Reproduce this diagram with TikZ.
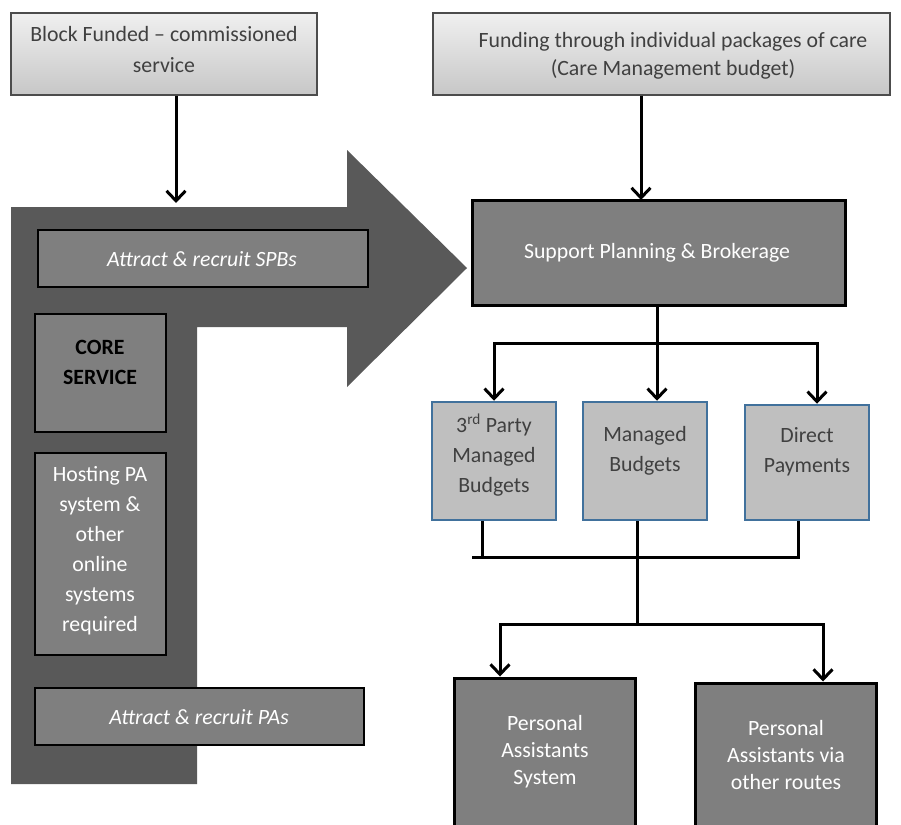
\documentclass[tikz,border=0pt]{standalone}
\usepackage{fontspec}
\setmainfont{Carlito}
\usetikzlibrary{arrows.meta}
\definecolor{bigarrow}{HTML}{595959}
\definecolor{darkfill}{HTML}{7F7F7F}
\definecolor{midfill}{HTML}{BFBFBF}
\definecolor{midborder}{HTML}{41719C}
\definecolor{txtgray}{HTML}{404040}
\begin{document}
\begin{tikzpicture}[x=1pt,y=-1pt,
  font=\fontsize{21.8}{30}\selectfont,
  topbox/.style={draw=black!70, line width=1.2pt, top color=black!6, bottom color=black!22, inner sep=0pt},
  darkbox/.style={fill=darkfill, draw=black, line width=3pt, inner sep=0pt},
  thinbox/.style={fill=darkfill, draw=black, line width=1.5pt, inner sep=0pt},
  midbox/.style={fill=midfill, draw=midborder, line width=2.5pt, inner sep=0pt},
  txt/.style={align=center, inner sep=0pt},
  conn/.style={line width=3pt, black},
  arr/.style={conn, -{Straight Barb[length=10pt,width=19pt]}}]
\clip (0,0) rectangle (901,824);
\fill[white] (0,0) rectangle (901,824);
% big L-shaped arrow
\fill[bigarrow] (11,207) -- (347,207) -- (347,150) -- (467,268) -- (347,387)
  -- (347,327) -- (197,327) -- (197,784) -- (11,784) -- cycle;
% top boxes
\node[topbox, minimum width=306pt, minimum height=82pt] (bf) at (164,54) {};
\node[txt, text=txtgray, font=\fontsize{21.8}{31}\selectfont] (bft) at (164,50) {Block Funded – commissioned\\service};
\node[topbox, minimum width=457pt, minimum height=82pt] (fund) at (661.5,54) {};
\node[txt, text=txtgray, font=\fontsize{21.8}{28}\selectfont] (fundt) at (673,56) {Funding through individual packages of care\\(Care Management budget)};
% support planning
\node[darkbox, minimum width=373pt, minimum height=105pt] (spb) at (658.5,252.5) {};
\node[txt, text=white] (spbt) at (657,253) {Support Planning \& Brokerage};
% left column boxes
\node[thinbox, minimum width=330pt, minimum height=57pt] (sp1) at (203,258.5) {};
\node[txt, text=white, font=\fontsize{21.8}{30}\selectfont\itshape] (sp1t) at (202,259) {Attract \& recruit SPBs};
\node[thinbox, minimum width=131pt, minimum height=118pt] (core) at (100.5,373) {};
\node[txt, text=black, font=\fontsize{21.8}{30}\selectfont\bfseries] (coret) at (100,362) {CORE\\SERVICE};
\node[thinbox, minimum width=131pt, minimum height=202pt] (host) at (100.5,554) {};
\node[txt, text=white] (hostt) at (100,550.5) {Hosting PA\\system \&\\other\\online\\systems\\required};
\node[thinbox, minimum width=329pt, minimum height=57pt] (pa1) at (199.5,716.5) {};
\node[txt, text=white, font=\fontsize{21.8}{30}\selectfont\itshape] (pa1t) at (199,717) {Attract \& recruit PAs};
% middle boxes
\node[midbox, minimum width=124pt, minimum height=118pt] (tp) at (494,461) {};
\node[txt, text=txtgray] (tpt) at (494,455) {3\textsuperscript{rd} Party\\Managed\\Budgets};
\node[midbox, minimum width=124pt, minimum height=118pt] (mb) at (645,461) {};
\node[txt, text=txtgray] (mbt) at (645,450.5) {Managed\\Budgets};
\node[midbox, minimum width=124pt, minimum height=115pt] (dp) at (807,462.5) {};
\node[txt, text=txtgray] (dpt) at (807,452) {Direct\\Payments};
% bottom boxes
\node[darkbox, minimum width=181pt, minimum height=222pt] (pas) at (544.5,789) {};
\node[txt, text=white, font=\fontsize{21.8}{27}\selectfont] (past) at (545,752) {Personal\\Assistants\\System};
\node[darkbox, minimum width=181pt, minimum height=217pt] (pao) at (785.5,791.5) {};
\node[txt, text=white, font=\fontsize{21.8}{27}\selectfont] (paot) at (786,755) {Personal\\Assistants via\\other routes};
% connector coordinates
\coordinate (bfin) at (176,203);
\coordinate (spbin) at (641,200);
\coordinate (j1) at (657,343);
\coordinate (j2l) at (472,557);
\coordinate (j2) at (637,557);
\coordinate (j3) at (637,624);
% connectors
\draw[arr] (bf.south -| bfin) -- (bfin);
\draw[arr] (fund.south -| spbin) -- (spbin);
\draw[conn] (spb.south -| j1) -- (j1);
\draw[arr] (j1) -| (tp.north);
\draw[arr] (j1) -- (j1 |- mb.north);
\draw[arr] (j1) -| ([xshift=10pt]dp.north);
\draw[conn] ([xshift=-12pt]tp.south) -- ([xshift=-12pt]tp.south |- j2);
\draw[conn] (j2l) -- (j2) -| ([xshift=-9pt]dp.south);
\draw[conn] ([xshift=-8pt]mb.south) -- (j3);
\draw[arr] (j3) -| ([xshift=-44.5pt]pas.north);
\draw[arr] (j3) -| ([xshift=37.5pt]pao.north);
\end{tikzpicture}
\end{document}
